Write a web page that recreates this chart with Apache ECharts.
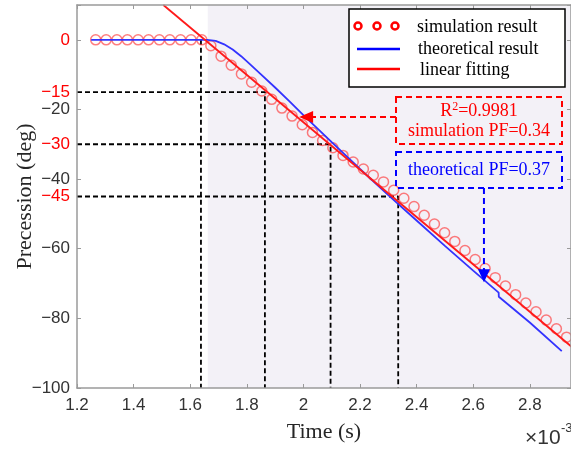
<!DOCTYPE html>
<html><head><meta charset="utf-8">
<script src="https://cdn.jsdelivr.net/npm/echarts@6/dist/echarts.min.js"></script>
<style>html,body{margin:0;padding:0;background:#fff}#c{width:571px;height:451px}</style>
</head><body><div id="c"></div>
<script>
// ---- data ----
const simTime = [1.266,1.303,1.341,1.378,1.416,1.453,1.491,1.528,1.566,1.603,1.641,
  1.673,1.709,1.745,1.781,1.817,1.853,1.888,1.924,1.960,1.996,2.032,2.068,2.104,2.140,2.176,2.212,
  2.247,2.283,2.319,2.355,2.391,2.427,2.463,2.499,2.535,2.571,2.607,2.642,2.678,2.714,2.750,2.786,
  2.822,2.858,2.894,2.930];
const simValue = [0,0,0,0,0,0,0,0,0,0,0,
  -1.7,-4.7,-7.3,-9.8,-12.2,-14.7,-17.1,-19.6,-21.9,-24.4,-26.6,-28.9,-31.0,-33.2,-35.1,-37.1,
  -38.9,-40.8,-43.2,-45.5,-47.9,-50.4,-52.9,-55.4,-57.9,-60.5,-63.1,-65.7,-68.3,-70.7,-73.2,-75.6,
  -78.1,-80.5,-83.0,-85.4];
const theoTime = [1.25,1.40,1.55,1.66,1.69,1.72,1.75,1.78,1.81,1.85,1.90,1.95,2.00,2.10,2.20,2.30,2.40,2.50,2.60,2.69,2.6905,2.80,2.913];
const theoValue = [0,0,0,0,-0.3,-1.3,-2.8,-4.7,-6.9,-9.9,-13.7,-17.6,-21.6,-29.4,-37.1,-44.6,-51.9,-59.2,-66.3,-72.6,-73.8,-81.2,-89.4];
const fitTime = [1.505, 2.96];
const fitValue = [10, -89.0];
const guideTime = [1.638, 1.864, 2.096, 2.335];
const guideValue = [0, -15, -30, -45];
const shadeStart = 1.662;
const xMin = 1.2, xMax = 2.9456, yMin = -100, yMax = 10;
const yLabelsGray = [-100, -80, -60, -40, -20];
const yLabelsRed = [0, -15, -30, -45];
const redArrowTip = [1.985, -22.2];
const blueArrowTip = [2.638, -69.6];
const seriesNames = ['simulation result', 'theoretical result', 'linear fitting'];
const rSquared = '0.9981', simPF = '0.34', theoPF = '0.37';

// ---- chart ----
const chart = echarts.init(document.getElementById('c'));
const gray = '#333333';
const axisGray = '#9a9a9a';
const sans = 'Liberation Sans, Arial, sans-serif';
const serif = 'Liberation Serif, Times New Roman, serif';
const minus = s => String(s).replace('-', '\u2212');

const guideSeries = guideTime.map((t, i) => ({
  type: 'line', symbol: 'none', silent: true, z: 3,
  lineStyle: { color: '#000', width: 1.8, type: [5, 3] },
  data: i === 0 ? [[t, guideValue[i]], [t, yMin]]
                : [[xMin, guideValue[i]], [t, guideValue[i]], [t, yMin]]
}));

chart.setOption({
  animation: false,
  backgroundColor: '#fff',
  grid: { left: 77, right: 0, top: 5, bottom: 63, containLabel: false, outerBoundsMode: 'none' },
  xAxis: [
    { type: 'value', position: 'bottom', min: xMin, max: xMax, interval: 0.2, z: 10,
      name: 'Time (s)', nameLocation: 'middle', nameGap: 33, nameMoveOverlap: false,
      nameTextStyle: { fontFamily: serif, fontSize: 22, color: '#262626' },
      axisLine: { onZero: false, lineStyle: { color: axisGray, width: 1.5 } },
      axisTick: { inside: true, length: 4, lineStyle: { color: axisGray } },
      splitLine: { show: false },
      axisLabel: { fontFamily: sans, fontSize: 17, color: gray, margin: 9, showMaxLabel: false,
        formatter: v => { const k = Math.round(v * 5); if (Math.abs(v * 5 - k) > 1e-6 || v > 2.81) return ''; const r = k / 5; return Math.abs(r - Math.round(r)) < 1e-9 ? String(Math.round(r)) : r.toFixed(1); } } },
    { type: 'value', position: 'top', min: xMin, max: xMax, interval: 0.2, z: 10,
      axisLine: { show: true, onZero: false, lineStyle: { color: axisGray, width: 1.5 } },
      axisTick: { inside: true, length: 4, lineStyle: { color: axisGray } },
      axisLabel: { show: false }, splitLine: { show: false } }
  ],
  yAxis: [
    { type: 'value', position: 'left', min: yMin, max: yMax, interval: 5, z: 10,
      name: 'Precession (deg)', nameLocation: 'middle', nameGap: 41, nameMoveOverlap: false,
      nameTextStyle: { fontFamily: serif, fontSize: 22, color: '#262626' },
      axisLine: { show: true, onZero: false, lineStyle: { color: axisGray, width: 1.5 } },
      axisTick: { show: false }, splitLine: { show: false },
      axisLabel: { fontFamily: sans, fontSize: 17, margin: 7, showMaxLabel: false,
        color: v => yLabelsRed.includes(Math.round(v)) ? '#ff0000' : gray,
        formatter: v => { const r = Math.round(v); return (yLabelsGray.includes(r) || yLabelsRed.includes(r)) ? minus(r) : ''; } } },
    { type: 'value', position: 'left', min: yMin, max: yMax, interval: 20, z: 10,
      axisLine: { show: false, onZero: false }, axisLabel: { show: false }, splitLine: { show: false },
      axisTick: { show: true, inside: true, length: 4, lineStyle: { color: axisGray } } },
    { type: 'value', position: 'right', min: yMin, max: yMax, interval: 20, z: 10,
      axisLine: { show: true, onZero: false, lineStyle: { color: axisGray, width: 1.5 } }, axisLabel: { show: false }, splitLine: { show: false },
      axisTick: { show: true, inside: true, length: 4, lineStyle: { color: axisGray } } }
  ],
  series: [
    { type: 'line', data: [], silent: true, z: 1,
      markArea: { silent: true, itemStyle: { color: '#f3f1f7' },
        data: [[{ coord: [shadeStart, yMin] }, { coord: [xMax, yMax] }]] } },
    ...guideSeries,
    { name: seriesNames[0], type: 'scatter', z: 4, symbol: 'circle', symbolSize: 10,
      itemStyle: { color: 'rgba(0,0,0,0)', borderColor: 'rgba(255,40,40,0.75)', borderWidth: 1.5 },
      data: simTime.map((t, i) => [t, simValue[i]]) },
    { name: seriesNames[1], type: 'line', z: 5, symbol: 'none',
      lineStyle: { color: '#3333ff', width: 1.8 },
      data: theoTime.map((t, i) => [t, theoValue[i]]) },
    { name: seriesNames[2], type: 'line', z: 6, symbol: 'none',
      lineStyle: { color: '#ff1a1a', width: 1.8 },
      data: fitTime.map((t, i) => [t, fitValue[i]]) }
  ]
});

const rt = chart.convertToPixel({ xAxisIndex: 0, yAxisIndex: 0 }, redArrowTip);
const bt = chart.convertToPixel({ xAxisIndex: 0, yAxisIndex: 0 }, blueArrowTip);
const tx = (x, y, text, fill, extra) => Object.assign({ type: 'text', z: 100, x, y,
  style: Object.assign({ text, fill, fontFamily: serif, fontSize: 18, verticalAlign: 'middle' }, extra || {}) });

chart.setOption({
  graphic: [
    // legend
    { type: 'rect', z: 100, shape: { x: 349, y: 9, width: 216, height: 78 }, style: { fill: '#fff', stroke: '#000', lineWidth: 1.5 } },
    ...[358, 377, 395].map(cx => ({ type: 'circle', z: 101, shape: { cx, cy: 26, r: 3.5 }, style: { fill: 'none', stroke: '#ff0000', lineWidth: 2.5 } })),
    tx(417, 27, seriesNames[0], '#000'),
    { type: 'line', z: 101, shape: { x1: 357, y1: 49, x2: 400, y2: 49 }, style: { stroke: '#0000ff', lineWidth: 2.5 } },
    tx(418, 49, seriesNames[1], '#000'),
    { type: 'line', z: 101, shape: { x1: 357, y1: 69, x2: 400, y2: 69 }, style: { stroke: '#ff0000', lineWidth: 2.5 } },
    tx(420, 70, seriesNames[2], '#000'),
    // red annotation
    { type: 'rect', z: 100, shape: { x: 396, y: 97, width: 166, height: 47 }, style: { fill: 'none', stroke: '#ff0000', lineWidth: 2, lineDash: [6, 4] } },
    { type: 'text', z: 100, x: 479, y: 111, style: { text: '{a|R}{s|2}{a|=' + rSquared + '}', align: 'center', verticalAlign: 'middle',
        rich: { a: { fontFamily: serif, fontSize: 18, fill: '#ff0000', color: '#ff0000' }, s: { fontFamily: serif, fontSize: 12, fill: '#ff0000', color: '#ff0000', verticalAlign: 'top', padding: [0, 0, 8, 0] } } } },
    tx(479, 131, 'simulation PF=' + simPF, '#ff0000', { align: 'center' }),
    { type: 'line', z: 100, shape: { x1: 396, y1: rt[1], x2: rt[0] + 13, y2: rt[1] }, style: { stroke: '#ff0000', lineWidth: 2, lineDash: [6, 4] } },
    { type: 'polygon', z: 100, shape: { points: [[rt[0], rt[1]], [rt[0] + 14, rt[1] - 6], [rt[0] + 14, rt[1] + 6]] }, style: { fill: '#ff0000' } },
    // blue annotation
    { type: 'rect', z: 100, shape: { x: 396, y: 152, width: 166, height: 36 }, style: { fill: 'none', stroke: '#0000ff', lineWidth: 2, lineDash: [6, 4] } },
    tx(479, 170, 'theoretical PF=' + theoPF, '#0000ff', { align: 'center' }),
    { type: 'line', z: 100, shape: { x1: bt[0], y1: 188, x2: bt[0], y2: bt[1] - 12 }, style: { stroke: '#0000ff', lineWidth: 2, lineDash: [6, 4] } },
    { type: 'polygon', z: 100, shape: { points: [[bt[0], bt[1]], [bt[0] - 6, bt[1] - 13], [bt[0] + 6, bt[1] - 13]] }, style: { fill: '#0000ff' } },
    // exponent
    { type: 'text', z: 100, x: 525, y: 438, style: { text: '\u00d710', fill: gray, fontFamily: sans, fontSize: 21, verticalAlign: 'middle' } },
    { type: 'text', z: 100, x: 561, y: 428, style: { text: '-3', fill: gray, fontFamily: sans, fontSize: 13, verticalAlign: 'middle' } }
  ]
});
</script></body></html>
